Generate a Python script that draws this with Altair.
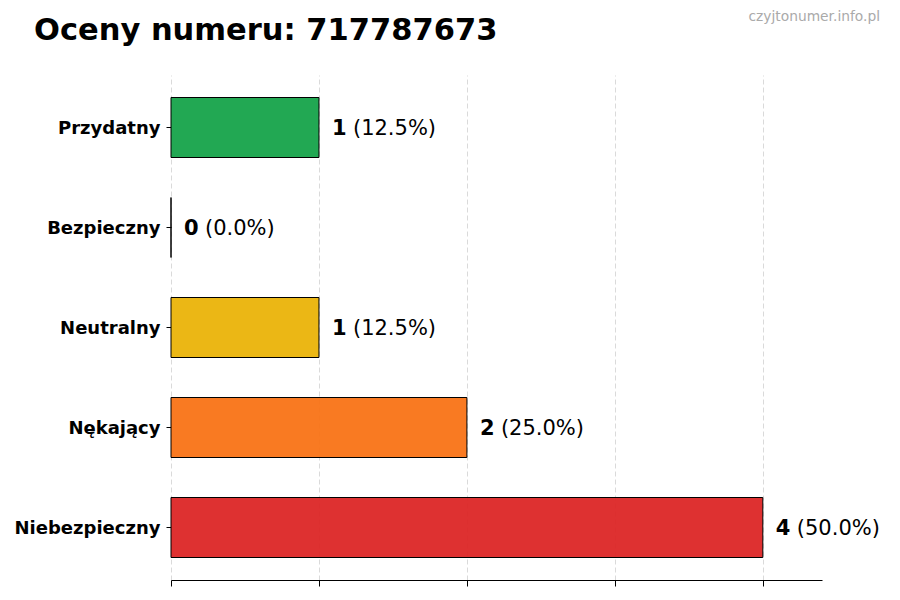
import altair as alt
import pandas as pd

categories = ["Przydatny", "Bezpieczny", "Neutralny", "Nękający", "Niebezpieczny"]
counts = [1, 0, 1, 2, 4]
percent_labels = ["(12.5%)", "(0.0%)", "(12.5%)", "(25.0%)", "(50.0%)"]
colors = ["#16a34a", "#3b82f6", "#eab308", "#f97316", "#dc2626"]
x_ticks = [0, 1, 2, 3, 4]
title_text = "Oceny numeru: 717787673"
watermark_text = "czyjtonumer.info.pl"

df = pd.DataFrame({
    "cat": categories,
    "count": counts,
    "num": [str(c) for c in counts],
    "pct": percent_labels,
})

FONT = "DejaVu Sans"

y_enc = alt.Y(
    "cat:N",
    sort=categories,
    title=None,
    scale=alt.Scale(paddingInner=0.4, paddingOuter=0.225),
    axis=alt.Axis(
        domain=False, ticks=True, tickSize=5, tickColor="black", tickWidth=1,
        labelFont=FONT, labelFontWeight="bold", labelFontSize=18,
        labelColor="black", labelPadding=6, labelOffset=1.5, grid=False,
    ),
)
x_enc = alt.X(
    "count:Q",
    title=None,
    scale=alt.Scale(domain=[0, 4.4], nice=False, zero=True),
    axis=alt.Axis(
        values=x_ticks, labels=False, ticks=True, tickSize=6, tickColor="black",
        domain=True, domainColor="black", domainWidth=1.2,
        grid=True, gridColor="#d0d0d0", gridDash=[5, 3], gridWidth=0.8,
    ),
)

bars = alt.Chart(df).mark_bar(stroke="black", strokeWidth=1, fillOpacity=0.95).encode(
    x=x_enc,
    y=y_enc,
    color=alt.Color("cat:N", scale=alt.Scale(domain=categories, range=colors), legend=None),
)

nums = alt.Chart(df).mark_text(
    align="left", baseline="middle", dx=13, dy=1, font=FONT, fontSize=21,
    fontWeight="bold", color="black",
).encode(x="count:Q", y=alt.Y("cat:N", sort=categories), text="num:N")

pcts = alt.Chart(df).mark_text(
    align="left", baseline="middle", dx=34, dy=1, font=FONT, fontSize=21,
    fontWeight="normal", color="black",
).encode(x="count:Q", y=alt.Y("cat:N", sort=categories), text="pct:N")

wm = alt.Chart(pd.DataFrame({"t": [watermark_text]})).mark_text(
    align="right", baseline="alphabetic", font=FONT, fontSize=13.8, color="#aaaaaa",
).encode(x=alt.value(709), y=alt.value(-54), text="t:N")

ttl = alt.Chart(pd.DataFrame({"t": [title_text]})).mark_text(
    align="left", baseline="alphabetic", font=FONT, fontSize=30.5,
    fontWeight="bold", color="black",
).encode(x=alt.value(-137), y=alt.value(-35), text="t:N")

chart = alt.layer(bars, nums, pcts, wm, ttl).properties(
    width=651,
    height=505,
    autosize=alt.AutoSizeParams(type="none"),
    padding={"left": 163, "top": 67, "right": 70, "bottom": 12},
).configure_view(stroke=None)

chart.save("out.html", embed_options={"renderer": "svg", "actions": False})
